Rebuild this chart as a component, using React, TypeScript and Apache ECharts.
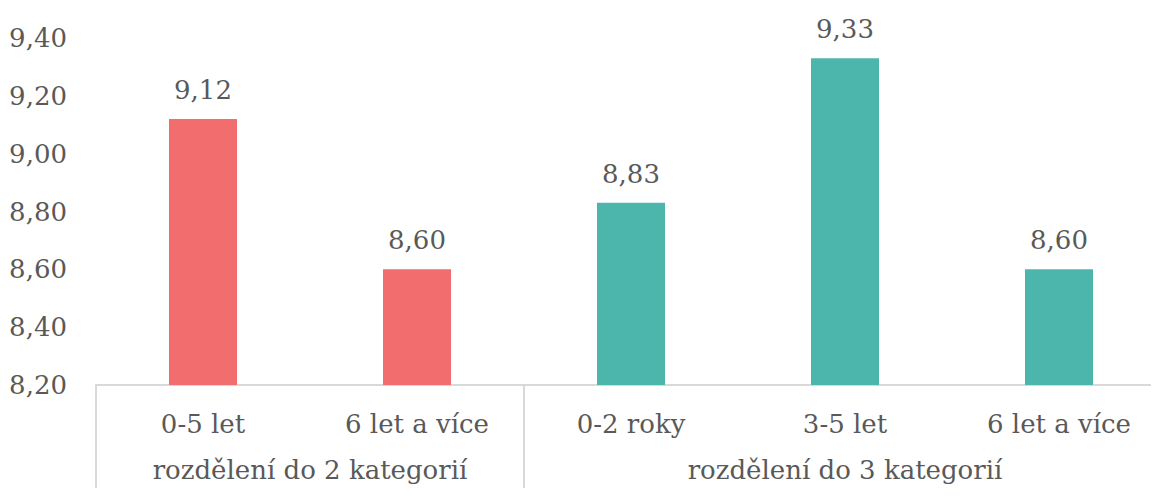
import React, { useEffect, useRef } from "react";
import * as echarts from "echarts";

const categories = ["0-5 let", "6 let a více", "0-2 roky", "3-5 let", "6 let a více"];
const values = [9.12, 8.6, 8.83, 9.33, 8.6];
const barColors = ["#F26D6D", "#F26D6D", "#4DB6AC", "#4DB6AC", "#4DB6AC"];
const groupLabels = ["rozdělení do 2 kategorií", "rozdělení do 3 kategorií"];
const groupPoints = ["", "", groupLabels[0], "", "", "", "", groupLabels[1], "", "", ""];
const separatorIdx = [0, 4, 10];

const FONT = "DejaVu Serif";
const FS = 26;
const TXT = "#595959";
const fmt = (v: number) => v.toFixed(2).replace(".", ",");

export default function App() {
  const ref = useRef<HTMLDivElement>(null);
  useEffect(() => {
    if (!ref.current) return;
    const chart = echarts.init(ref.current, undefined, { renderer: "svg" });
    chart.setOption({
      animation: false,
      textStyle: { fontFamily: FONT },
      grid: { left: 96, right: 0, top: 38, bottom: 111, containLabel: false, outerBoundsMode: "none" },
      xAxis: [
        {
          type: "category",
          data: categories,
          axisLine: { show: true, lineStyle: { color: "#D9D9D9", width: 2 } },
          axisTick: { show: false },
          axisLabel: {
            interval: 0,
            color: TXT,
            fontFamily: FONT,
            fontSize: FS,
            margin: 39,
            verticalAlign: "middle",
          },
        },
        {
          type: "category",
          position: "bottom",
          boundaryGap: false,
          data: groupPoints,
          axisLine: { show: false },
          axisTick: {
            show: true,
            length: 111,
            interval: (i: number) => separatorIdx.includes(i),
            lineStyle: { color: "#D9D9D9", width: 2 },
          },
          axisLabel: {
            interval: 0,
            color: TXT,
            fontFamily: FONT,
            fontSize: FS,
            margin: 85,
            verticalAlign: "middle",
          },
        },
      ],
      yAxis: {
        type: "value",
        min: 8.2,
        max: 9.4,
        interval: 0.2,
        splitLine: { show: false },
        axisLine: { show: false },
        axisTick: { show: false },
        axisLabel: {
          color: TXT,
          fontFamily: FONT,
          fontSize: FS,
          margin: 29,
          formatter: (v: number) => fmt(v),
        },
      },
      series: [
        {
          type: "bar",
          xAxisIndex: 0,
          barWidth: 68,
          data: values.map((v, i) => ({ value: v, itemStyle: { color: barColors[i] } })),
          label: {
            show: true,
            position: "top",
            distance: 16,
            color: TXT,
            fontFamily: FONT,
            fontSize: FS,
            formatter: (p: any) => fmt(p.value),
          },
        },
      ],
    });
    return () => chart.dispose();
  }, []);
  return (
    <div style={{ width: 1159, height: 496, margin: -8, overflow: "hidden" }}>
      <div ref={ref} style={{ width: 1166, height: 496 }} />
    </div>
  );
}
